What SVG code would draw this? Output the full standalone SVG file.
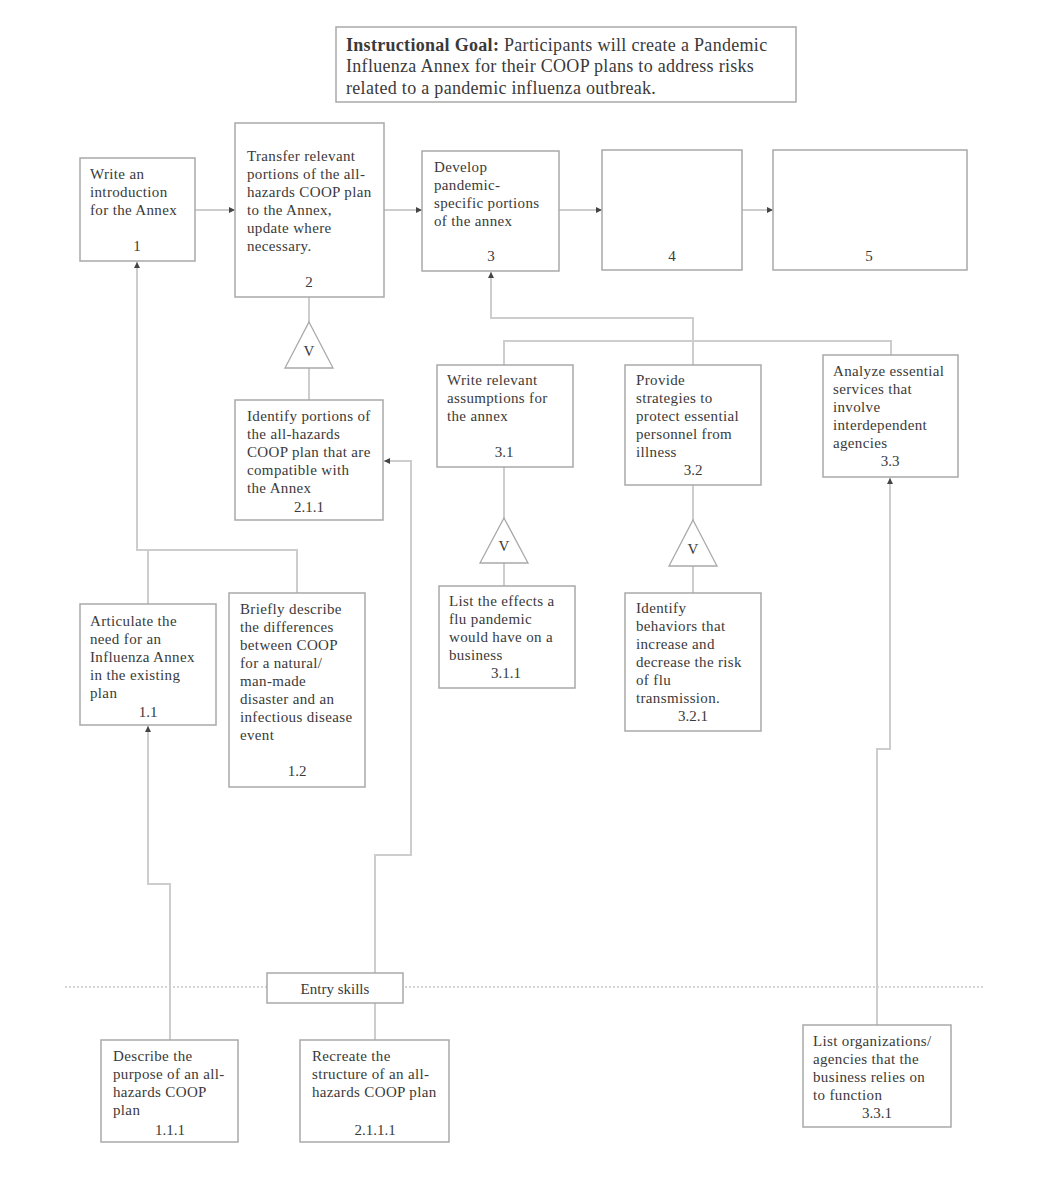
<svg xmlns="http://www.w3.org/2000/svg" width="1040" height="1180" viewBox="0 0 1040 1180">
<defs>
<marker id="ah" viewBox="0 0 6 6" refX="6" refY="3" markerWidth="6" markerHeight="6" markerUnits="userSpaceOnUse" orient="auto">
<path d="M0,0 L6,3 L0,6 Z" fill="#444"/>
</marker>
</defs>
<style>
.box{fill:#fff;stroke:#a9a9a9;stroke-width:1.5}
.t{font-family:"Liberation Serif","DejaVu Serif",serif;font-size:15px;letter-spacing:0.35px;fill:#3a3a3a}
.n{font-family:"Liberation Serif","DejaVu Serif",serif;font-size:15px;fill:#3a3a3a;text-anchor:middle}
.g{font-family:"Liberation Serif","DejaVu Serif",serif;font-size:18px;letter-spacing:0.3px;fill:#3a3a3a}
.c{fill:none;stroke:#cdcdcd;stroke-width:2}
.ca{fill:none;stroke:#cdcdcd;stroke-width:2;marker-end:url(#ah)}
.tri{fill:#fff;stroke:#a9a9a9;stroke-width:1.3}
.dash{stroke:#d4d4d4;stroke-width:2;stroke-dasharray:2 2}
</style>
<rect width="1040" height="1180" fill="#fff"/>

<line class="dash" x1="65" y1="987" x2="985" y2="987"/>

<g id="connectors">
<line class="ca" x1="195" y1="210" x2="235" y2="210"/>
<line class="ca" x1="384" y1="210" x2="422" y2="210"/>
<line class="ca" x1="559" y1="210" x2="602" y2="210"/>
<line class="ca" x1="742" y1="210" x2="773" y2="210"/>
<polyline class="c" points="309,297 309,322"/>
<polyline class="c" points="309,368 309,400"/>
<polyline class="ca" points="297,593 297,550 137,550 137,262"/>
<polyline class="c" points="148,604 148,550"/>
<polyline class="ca" points="170,1040 170,884 148,884 148,726"/>
<polyline class="ca" points="375,973 375,855 411,855 411,461 384,461"/>
<polyline class="c" points="375,1003 375,1040"/>
<polyline class="ca" points="693,365 693,318 491,318 491,272"/>
<polyline class="c" points="504,365 504,341 891,341 891,355"/>
<polyline class="c" points="504,467 504,518"/>
<polyline class="c" points="504,563 504,586"/>
<polyline class="c" points="693,485 693,520"/>
<polyline class="c" points="693,566 693,593"/>
<polyline class="ca" points="877,1025 877,749 890,749 890,478"/>
</g>

<g id="goal">
<rect class="box" x="336" y="27" width="460" height="75"/>
<text class="g" x="346" y="51"><tspan font-weight="bold">Instructional Goal:</tspan> Participants will create a Pandemic</text>
<text class="g" x="346" y="72">Influenza Annex for their COOP plans to address risks</text>
<text class="g" x="346" y="94">related to a pandemic influenza outbreak.</text>
</g>

<g id="n1">
<rect class="box" x="80" y="158" width="115" height="103"/>
<text class="t" x="90" y="179">Write an</text>
<text class="t" x="90" y="197">introduction</text>
<text class="t" x="90" y="215">for the Annex</text>
<text class="n" x="137" y="251">1</text>
</g>

<g id="n2">
<rect class="box" x="235" y="123" width="149" height="174"/>
<text class="t" x="247" y="161">Transfer relevant</text>
<text class="t" x="247" y="179">portions of the all-</text>
<text class="t" x="247" y="197">hazards COOP plan</text>
<text class="t" x="247" y="215">to the Annex,</text>
<text class="t" x="247" y="233">update where</text>
<text class="t" x="247" y="251">necessary.</text>
<text class="n" x="309" y="287">2</text>
</g>

<g id="n3">
<rect class="box" x="422" y="151" width="137" height="120"/>
<text class="t" x="434" y="172">Develop</text>
<text class="t" x="434" y="190">pandemic-</text>
<text class="t" x="434" y="208">specific portions</text>
<text class="t" x="434" y="226">of the annex</text>
<text class="n" x="491" y="261">3</text>
</g>

<g id="n4">
<rect class="box" x="602" y="150" width="140" height="120"/>
<text class="n" x="672" y="261">4</text>
</g>

<g id="n5">
<rect class="box" x="773" y="150" width="194" height="120"/>
<text class="n" x="869" y="261">5</text>
</g>

<g id="v2">
<polygon class="tri" points="309,322 333,368 285,368"/>
<text class="n" x="309" y="356">V</text>
</g>

<g id="n211">
<rect class="box" x="235" y="400" width="148" height="120"/>
<text class="t" x="247" y="421">Identify portions of</text>
<text class="t" x="247" y="439">the all-hazards</text>
<text class="t" x="247" y="457">COOP plan that are</text>
<text class="t" x="247" y="475">compatible with</text>
<text class="t" x="247" y="493">the Annex</text>
<text class="n" x="309" y="512">2.1.1</text>
</g>

<g id="n31">
<rect class="box" x="437" y="365" width="136" height="102"/>
<text class="t" x="447" y="385">Write relevant</text>
<text class="t" x="447" y="403">assumptions for</text>
<text class="t" x="447" y="421">the annex</text>
<text class="n" x="504" y="457">3.1</text>
</g>

<g id="n32">
<rect class="box" x="625" y="365" width="136" height="120"/>
<text class="t" x="636" y="385">Provide</text>
<text class="t" x="636" y="403">strategies to</text>
<text class="t" x="636" y="421">protect essential</text>
<text class="t" x="636" y="439">personnel from</text>
<text class="t" x="636" y="457">illness</text>
<text class="n" x="693" y="475">3.2</text>
</g>

<g id="n33">
<rect class="box" x="823" y="355" width="135" height="122"/>
<text class="t" x="833" y="376">Analyze essential</text>
<text class="t" x="833" y="394">services that</text>
<text class="t" x="833" y="412">involve</text>
<text class="t" x="833" y="430">interdependent</text>
<text class="t" x="833" y="448">agencies</text>
<text class="n" x="890" y="466">3.3</text>
</g>

<g id="v31">
<polygon class="tri" points="504,518 528,563 480,563"/>
<text class="n" x="504" y="551">V</text>
</g>

<g id="v32">
<polygon class="tri" points="693,520 717,566 669,566"/>
<text class="n" x="693" y="554">V</text>
</g>

<g id="n311">
<rect class="box" x="439" y="586" width="136" height="102"/>
<text class="t" x="449" y="606">List the effects a</text>
<text class="t" x="449" y="624">flu pandemic</text>
<text class="t" x="449" y="642">would have on a</text>
<text class="t" x="449" y="660">business</text>
<text class="n" x="506" y="678">3.1.1</text>
</g>

<g id="n321">
<rect class="box" x="625" y="593" width="136" height="138"/>
<text class="t" x="636" y="613">Identify</text>
<text class="t" x="636" y="631">behaviors that</text>
<text class="t" x="636" y="649">increase and</text>
<text class="t" x="636" y="667">decrease the risk</text>
<text class="t" x="636" y="685">of flu</text>
<text class="t" x="636" y="703">transmission.</text>
<text class="n" x="693" y="721">3.2.1</text>
</g>

<g id="n11">
<rect class="box" x="80" y="604" width="136" height="121"/>
<text class="t" x="90" y="626">Articulate the</text>
<text class="t" x="90" y="644">need for an</text>
<text class="t" x="90" y="662">Influenza Annex</text>
<text class="t" x="90" y="680">in the existing</text>
<text class="t" x="90" y="698">plan</text>
<text class="n" x="148" y="717">1.1</text>
</g>

<g id="n12">
<rect class="box" x="229" y="593" width="136" height="194"/>
<text class="t" x="240" y="614">Briefly describe</text>
<text class="t" x="240" y="632">the differences</text>
<text class="t" x="240" y="650">between COOP</text>
<text class="t" x="240" y="668">for a natural/</text>
<text class="t" x="240" y="686">man-made</text>
<text class="t" x="240" y="704">disaster and an</text>
<text class="t" x="240" y="722">infectious disease</text>
<text class="t" x="240" y="740">event</text>
<text class="n" x="297" y="776">1.2</text>
</g>

<g id="entry">
<rect class="box" x="267" y="973" width="136" height="30"/>
<text class="n" x="335" y="994">Entry skills</text>
</g>

<g id="n111">
<rect class="box" x="101" y="1040" width="137" height="102"/>
<text class="t" x="113" y="1061">Describe the</text>
<text class="t" x="113" y="1079">purpose of an all-</text>
<text class="t" x="113" y="1097">hazards COOP</text>
<text class="t" x="113" y="1115">plan</text>
<text class="n" x="170" y="1135">1.1.1</text>
</g>

<g id="n2111">
<rect class="box" x="300" y="1040" width="149" height="102"/>
<text class="t" x="312" y="1061">Recreate the</text>
<text class="t" x="312" y="1079">structure of an all-</text>
<text class="t" x="312" y="1097">hazards COOP plan</text>
<text class="n" x="375" y="1135">2.1.1.1</text>
</g>

<g id="n331">
<rect class="box" x="803" y="1025" width="148" height="102"/>
<text class="t" x="813" y="1046">List organizations/</text>
<text class="t" x="813" y="1064">agencies that the</text>
<text class="t" x="813" y="1082">business relies on</text>
<text class="t" x="813" y="1100">to function</text>
<text class="n" x="877" y="1118">3.3.1</text>
</g>
</svg>
